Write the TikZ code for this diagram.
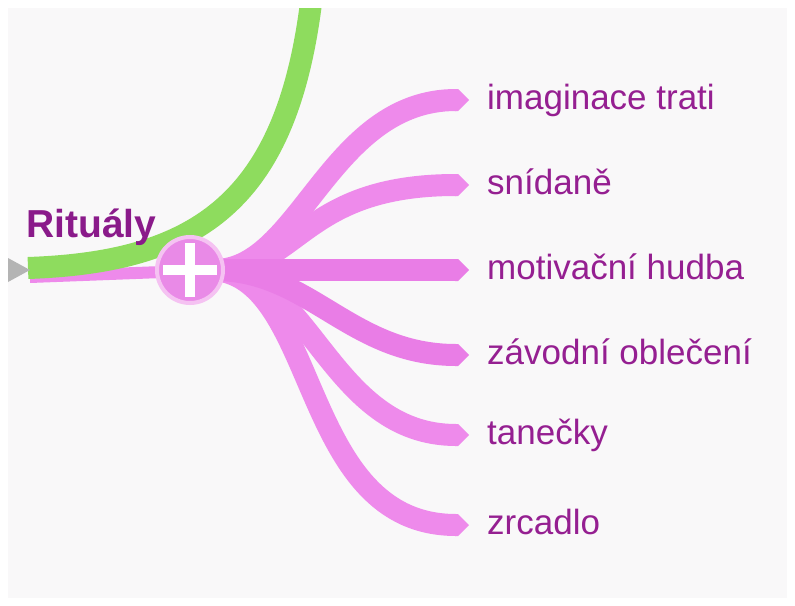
\documentclass[tikz,border=0pt]{standalone}
\usepackage{fontspec}
\setmainfont{Liberation Sans}
\usetikzlibrary{calc}
\definecolor{bgc}{HTML}{F9F8F9}
\definecolor{greenc}{HTML}{8EDC5E}
\definecolor{pinkc}{HTML}{EE8AEB}
\definecolor{pinkd}{HTML}{E97DE6}
\definecolor{ringc}{HTML}{F5C2F2}
\definecolor{hubc}{HTML}{E98AE7}
\definecolor{labc}{HTML}{951F91}
\definecolor{titc}{HTML}{8A1A8A}
\definecolor{grayc}{HTML}{B4B4B4}
\begin{document}
\begin{tikzpicture}[x=1pt,y=-1pt,
  branch/.style={draw=#1,line width=22pt,line cap=butt},
  lab/.style={anchor=base west,inner sep=0pt,text=labc,font=\fontsize{35}{40}\selectfont},
  tit/.style={anchor=base west,inner sep=0pt,text=titc,font=\fontsize{39}{44}\selectfont\bfseries}]
\useasboundingbox (0,0) rectangle (795,605);
\fill[white] (0,0) rectangle (795,605);
\fill[bgc] (8,8) rectangle (787,598);
% hub and tips
\coordinate (hub) at (215,270);
\coordinate (t1) at (456,100);
\coordinate (t2) at (456,185);
\coordinate (t3) at (456,270);
\coordinate (t4) at (456,355);
\coordinate (t5) at (456,435);
\coordinate (t6) at (456,525);
% pink lead under green
\draw[pinkc,line width=12pt] (30,277) -- (hub);
% green branch
\begin{scope}
\clip (8,8) rectangle (787,598);
\draw[greenc,line width=22pt,line cap=butt] (28,268) .. controls (200,262) and (288,200) .. (312,-5);
\end{scope}
% branches
\draw[branch=pinkc] (hub) .. controls (300,270) and (330,100) .. (t1);
\draw[branch=pinkc] (hub) .. controls (300,270) and (300,185) .. (t2);
\draw[branch=pinkc] (hub) .. controls (310,270) and (330,435) .. (t5);
\draw[branch=pinkc] (hub) .. controls (320,280) and (300,525) .. (t6);
\draw[branch=pinkd] (hub) .. controls (310,270) and (350,355) .. (t4);
\draw[branch=pinkd] (hub) -- (t3);
\foreach \t/\c in {t1/pinkc,t2/pinkc,t3/pinkd,t4/pinkd,t5/pinkc,t6/pinkc}{
  \fill[\c] ($(\t)+(-1,-11)$) -- ($(\t)+(2,-11)$) -- ($(\t)+(13,0)$) -- ($(\t)+(2,11)$) -- ($(\t)+(-1,11)$) -- cycle;
}
% gray triangle
\fill[grayc] (8,258) -- (30,270) -- (8,282) -- cycle;
% hub circle
\node[circle,minimum size=66pt,inner sep=0pt,fill=hubc,draw=ringc,line width=4pt] (plus) at (190,270) {};
\fill[white] ($(plus.center)+(-27,-5)$) rectangle ($(plus.center)+(27,5)$);
\fill[white] ($(plus.center)+(-5,-27)$) rectangle ($(plus.center)+(5,27)$);
% labels
\node[tit] (rit) at (26,237) {Rituály};
\node[lab] (l1) at (487,109) {imaginace trati};
\node[lab] (l2) at (487,194) {snídaně};
\node[lab] (l3) at (487,279) {motivační hudba};
\node[lab] (l4) at (487,364) {závodní oblečení};
\node[lab] (l5) at (487,444) {tanečky};
\node[lab] (l6) at (487,534) {zrcadlo};
\end{tikzpicture}
\end{document}
